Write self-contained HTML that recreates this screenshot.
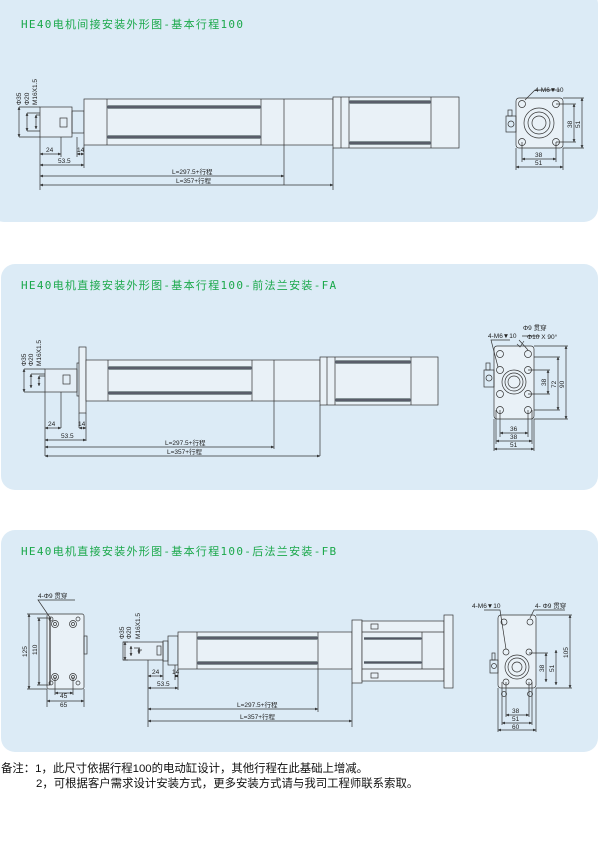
<!DOCTYPE html>
<html><head><meta charset="utf-8"><style>
body{margin:0;background:#fff;width:600px;height:842px;overflow:hidden;font-family:"Liberation Sans","Noto Sans CJK SC",sans-serif}
svg{position:absolute;left:0;top:0}
</style></head><body>
<svg width="600" height="842" viewBox="0 0 600 842" xmlns="http://www.w3.org/2000/svg">
<defs>
<marker id="a" viewBox="0 0 6 6" refX="6" refY="3" markerWidth="4" markerHeight="4" orient="auto-start-reverse"><path d="M0,0L6,3L0,6z" fill="#222"/></marker>
<linearGradient id="st" x1="0" y1="0" x2="0" y2="1"><stop offset="0" stop-color="#9aa"/><stop offset=".5" stop-color="#445"/><stop offset="1" stop-color="#9aa"/></linearGradient>
</defs>
<rect x="-10" y="-10" width="608" height="232" rx="14" fill="#dcebf6"/>
<rect x="1" y="264" width="597" height="226" rx="14" fill="#dcebf6"/>
<rect x="1" y="530" width="597" height="222" rx="14" fill="#dcebf6"/>
<g font-size="11" fill="#1aa84a" font-family="'DejaVu Sans Mono','Noto Sans CJK SC',monospace" letter-spacing="1.3">
<text x="21" y="28">HE40电机间接安装外形图-基本行程100</text>
<text x="21" y="289">HE40电机直接安装外形图-基本行程100-前法兰安装-FA</text>
<text x="21" y="555">HE40电机直接安装外形图-基本行程100-后法兰安装-FB</text>
</g>
<g stroke="#333" stroke-width="0.7" fill="none">
<!-- panel1 -->
<rect x="40" y="107" width="32" height="30" fill="#e4eef6"/><rect x="60" y="118" width="7" height="9"/><rect x="72" y="111" width="12" height="22"/>
<rect x="84" y="99" width="249" height="46" fill="#e9f1f7"/>
<line x1="107" y1="99" x2="107" y2="145"/><line x1="261" y1="99" x2="261" y2="145"/><line x1="284" y1="99" x2="284" y2="185"/>
<rect x="107" y="105" width="154" height="4" fill="url(#st)" stroke="none"/><rect x="107" y="135" width="154" height="4" fill="url(#st)" stroke="none"/>
<rect x="333" y="97" width="126" height="51" fill="#e9f1f7"/><line x1="341" y1="97" x2="341" y2="148"/><line x1="349" y1="97" x2="349" y2="148"/><line x1="431" y1="97" x2="431" y2="148"/>
<rect x="349" y="100" width="82" height="4" fill="url(#st)" stroke="none"/><rect x="349" y="141" width="82" height="4" fill="url(#st)" stroke="none"/>
<path d="M40 137V190M61 137V157M77 137V157M84 145V168M333 148V190"/>
<path d="M19 107H40M19 137H40M27 113H40M27 131H40M36 115H40"/>
<g marker-start="url(#a)" marker-end="url(#a)">
<line x1="19" y1="107" x2="19" y2="137"/><line x1="27" y1="113" x2="27" y2="131"/><line x1="36" y1="115" x2="36" y2="129"/>
<line x1="40" y1="154" x2="61" y2="154"/><line x1="84" y1="154" x2="77" y2="154"/><line x1="40" y1="165" x2="84" y2="165"/>
<line x1="40" y1="176" x2="284" y2="176"/><line x1="40" y1="185" x2="333" y2="185"/>
</g>
<rect x="516" y="98" width="47" height="50" rx="3" fill="#e9f1f7"/><rect x="506" y="116" width="10" height="16"/><rect x="508" y="110" width="4" height="6"/><circle cx="511" cy="124" r="3"/>
<circle cx="539" cy="123" r="15"/><circle cx="539" cy="123" r="11"/><circle cx="539" cy="123" r="7"/>
<g><circle cx="522" cy="104" r="3.5"/><circle cx="556" cy="104" r="3.5"/><circle cx="522" cy="142" r="3.5"/><circle cx="556" cy="142" r="3.5"/></g>
<path d="M556 104H576M563 98H584M556 142H576M563 148H584M522 142V162M556 142V162M516 148V170M563 148V170M525 100L535 90H560"/>
<g marker-start="url(#a)" marker-end="url(#a)"><line x1="574" y1="104" x2="574" y2="142"/><line x1="582" y1="98" x2="582" y2="148"/><line x1="522" y1="159" x2="556" y2="159"/><line x1="516" y1="167" x2="563" y2="167"/></g>
<!-- panel2 -->
<rect x="45" y="369" width="32" height="23" fill="#e4eef6"/><rect x="63" y="375" width="7" height="9"/><rect x="77" y="363" width="3" height="33"/>
<rect x="79" y="347" width="7" height="66" fill="#e9f1f7"/>
<rect x="86" y="360" width="234" height="41" fill="#e9f1f7"/>
<line x1="108" y1="360" x2="108" y2="401"/><line x1="252" y1="360" x2="252" y2="401"/><line x1="274" y1="360" x2="274" y2="449"/>
<rect x="108" y="366" width="144" height="4" fill="url(#st)" stroke="none"/><rect x="108" y="391" width="144" height="4" fill="url(#st)" stroke="none"/>
<rect x="320" y="357" width="118" height="48" fill="#e9f1f7"/><line x1="327" y1="357" x2="327" y2="405"/><line x1="335" y1="357" x2="335" y2="405"/><line x1="411" y1="357" x2="411" y2="405"/>
<rect x="335" y="360" width="76" height="4" fill="url(#st)" stroke="none"/><rect x="335" y="398" width="76" height="4" fill="url(#st)" stroke="none"/>
<path d="M45 392V456M61 392V428M79 413V428M86 413V441M320 405V456"/>
<path d="M24 369H45M24 392H45M31 374H45M39 376H45"/>
<g marker-start="url(#a)" marker-end="url(#a)">
<line x1="24" y1="369" x2="24" y2="392"/><line x1="31" y1="374" x2="31" y2="388"/><line x1="39" y1="376" x2="39" y2="386"/>
<line x1="45" y1="428" x2="61" y2="428"/><line x1="86" y1="428" x2="79" y2="428"/><line x1="45" y1="440" x2="86" y2="440"/>
<line x1="45" y1="447" x2="274" y2="447"/><line x1="45" y1="456" x2="320" y2="456"/>
</g>
<rect x="494" y="346" width="40" height="73" rx="3" fill="#e9f1f7"/><rect x="484" y="370" width="10" height="17"/><rect x="486" y="363" width="4" height="7"/><circle cx="489" cy="378" r="3"/>
<circle cx="514" cy="382" r="12"/><circle cx="514" cy="382" r="9"/><circle cx="514" cy="382" r="6"/>
<g><circle cx="500" cy="354" r="3.5"/><circle cx="528" cy="354" r="3.5"/><circle cx="500" cy="370" r="3.5"/><circle cx="528" cy="370" r="3.5"/><circle cx="500" cy="394" r="3.5"/><circle cx="528" cy="394" r="3.5"/><circle cx="500" cy="410" r="3.5"/><circle cx="528" cy="410" r="3.5"/></g>
<path d="M528 370H550M528 394H550M534 357H560M534 410H560M534 346H568M534 419H568M500 410V437M528 410V437M496 410V444M532 410V444M494 419V451M534 419V451M498 367L491 340H510M528 350L519 340M522 336H540"/>
<path d="M517 344L520 347L524 341" stroke-width="0.6"/>
<g marker-start="url(#a)" marker-end="url(#a)"><line x1="548" y1="370" x2="548" y2="394"/><line x1="558" y1="357" x2="558" y2="410"/><line x1="566" y1="346" x2="566" y2="419"/><line x1="500" y1="433" x2="528" y2="433"/><line x1="496" y1="441" x2="532" y2="441"/><line x1="494" y1="449" x2="534" y2="449"/></g>
<!-- panel3 -->
<rect x="47" y="614" width="37" height="75" rx="2" fill="#e9f1f7"/><line x1="50" y1="618" x2="50" y2="685" stroke-width="1.2"/><rect x="84" y="636" width="3" height="18"/>
<g><circle cx="55" cy="624" r="3.5"/><circle cx="55" cy="624" r="1.5"/><circle cx="73" cy="624" r="3.5"/><circle cx="73" cy="624" r="1.5"/><circle cx="55" cy="677" r="3.5"/><circle cx="55" cy="677" r="1.5"/><circle cx="73" cy="677" r="3.5"/><circle cx="73" cy="677" r="1.5"/><circle cx="51" cy="619" r="2"/><circle cx="78" cy="619" r="2"/><circle cx="51" cy="683" r="2"/><circle cx="78" cy="683" r="2"/></g>
<path d="M27 614H47M27 689H47M37 618H50M37 685H50M55 677V695M73 677V695M47 689V707M84 689V707M51 619L38 600H75"/>
<g marker-start="url(#a)" marker-end="url(#a)"><line x1="29" y1="614" x2="29" y2="689"/><line x1="39" y1="618" x2="39" y2="685"/><line x1="55" y1="693" x2="73" y2="693"/><line x1="47" y1="701" x2="84" y2="701"/></g>
<rect x="123" y="642" width="40" height="18" fill="#e4eef6"/><rect x="163" y="641" width="5" height="20"/><rect x="157" y="646" width="4" height="9"/>
<rect x="168" y="636" width="10" height="29"/>
<rect x="178" y="632" width="174" height="37" fill="#e9f1f7"/>
<line x1="197" y1="632" x2="197" y2="669"/><line x1="318" y1="632" x2="318" y2="669"/>
<rect x="197" y="636" width="121" height="4" fill="url(#st)" stroke="none"/><rect x="197" y="661" width="121" height="4" fill="url(#st)" stroke="none"/>
<rect x="352" y="620" width="10" height="63" fill="#e9f1f7"/>
<rect x="362" y="621" width="82" height="60" fill="#e9f1f7"/><line x1="362" y1="632" x2="444" y2="632"/><line x1="362" y1="669" x2="444" y2="669"/><line x1="422" y1="632" x2="422" y2="669"/>
<rect x="364" y="637" width="58" height="3" fill="url(#st)" stroke="none"/><rect x="364" y="661" width="58" height="3" fill="url(#st)" stroke="none"/>
<rect x="371" y="624" width="7" height="5"/><rect x="371" y="673" width="7" height="5"/>
<rect x="444" y="615" width="9" height="73" fill="#e9f1f7"/>
<path d="M148 660V727M163 660V680M175 665V680M178 669V690M318 669V712M352 683V727"/>
<path d="M123 642H128M123 660H128M134 648H140M142 650H140"/>
<g marker-start="url(#a)" marker-end="url(#a)">
<line x1="125" y1="642" x2="125" y2="660"/><line x1="131" y1="646" x2="131" y2="656"/><line x1="139" y1="648" x2="139" y2="654"/>
<line x1="148" y1="676" x2="163" y2="676"/><line x1="178" y1="676" x2="175" y2="676"/><line x1="148" y1="688" x2="178" y2="688"/>
<line x1="148" y1="709" x2="318" y2="709"/><line x1="148" y1="721" x2="352" y2="721"/>
</g>
<rect x="498" y="615" width="38" height="73" rx="3" fill="#e9f1f7"/><rect x="490" y="660" width="8" height="13"/><rect x="492" y="653" width="3" height="7"/><circle cx="494" cy="666" r="2.5"/>
<circle cx="517" cy="667" r="12"/><circle cx="517" cy="667" r="9"/><circle cx="517" cy="667" r="5"/>
<g><circle cx="504" cy="622" r="3"/><circle cx="530" cy="622" r="3"/><circle cx="506" cy="652" r="3"/><circle cx="529" cy="652" r="3"/><circle cx="506" cy="682" r="3"/><circle cx="529" cy="682" r="3"/><circle cx="504" cy="694" r="2.5"/><circle cx="530" cy="694" r="2.5"/></g>
<path d="M529 653H548M536 615H572M536 688H572M506 682V717M529 682V717M502 682V725M532 682V725M498 688V732M536 688V732M506 649L500 610H484M530 618L534 610H565"/>
<g marker-start="url(#a)" marker-end="url(#a)"><line x1="546" y1="653" x2="546" y2="682"/><line x1="556" y1="650" x2="556" y2="685"/><line x1="570" y1="615" x2="570" y2="688"/><line x1="506" y1="715" x2="529" y2="715"/><line x1="502" y1="723" x2="532" y2="723"/><line x1="498" y1="730" x2="536" y2="730"/></g>
</g>
<g font-size="6.5" fill="#222" font-family="'Liberation Sans','Noto Sans CJK SC',sans-serif">
<text x="46" y="152">24</text><text x="77" y="152">14</text><text x="58" y="163">53.5</text><text x="172" y="174">L=297.5+行程</text><text x="176" y="183">L=357+行程</text>
<text transform="translate(21,105) rotate(-90)">Φ35</text><text transform="translate(29,105) rotate(-90)">Φ20</text><text transform="translate(37,105) rotate(-90)">M16X1.5</text>
<text x="535" y="92">4-M6▼10</text><text x="535" y="157">38</text><text x="535" y="165">51</text>
<text transform="translate(572,128) rotate(-90)">38</text><text transform="translate(580,128) rotate(-90)">51</text>
<text x="48" y="426">24</text><text x="78" y="426">14</text><text x="61" y="438">53.5</text><text x="165" y="445">L=297.5+行程</text><text x="167" y="454">L=357+行程</text>
<text transform="translate(26,366) rotate(-90)">Φ35</text><text transform="translate(33,366) rotate(-90)">Φ20</text><text transform="translate(41,366) rotate(-90)">M16X1.5</text>
<text x="488" y="338">4-M6▼10</text><text x="523" y="330">Φ9 贯穿</text><text x="527" y="339">Φ10 X 90°</text>
<text x="510" y="431">36</text><text x="510" y="439">38</text><text x="510" y="447">51</text>
<text transform="translate(546,386) rotate(-90)">38</text><text transform="translate(556,388) rotate(-90)">72</text><text transform="translate(564,388) rotate(-90)">90</text>
<text x="38" y="598">4-Φ9 贯穿</text><text transform="translate(27,657) rotate(-90)">125</text><text transform="translate(37,655) rotate(-90)">110</text>
<text x="60" y="698">45</text><text x="60" y="707">65</text>
<text transform="translate(124,639) rotate(-90)">Φ35</text><text transform="translate(131,639) rotate(-90)">Φ20</text><text transform="translate(140,639) rotate(-90)">M16X1.5</text>
<text x="152" y="674">24</text><text x="172" y="674">14</text><text x="157" y="686">53.5</text><text x="237" y="707">L=297.5+行程</text><text x="240" y="719">L=357+行程</text>
<text x="472" y="608">4-M6▼10</text><text x="535" y="608">4- Φ9 贯穿</text>
<text x="512" y="713">38</text><text x="512" y="721">51</text><text x="512" y="729">60</text>
<text transform="translate(544,672) rotate(-90)">38</text><text transform="translate(554,672) rotate(-90)">51</text><text transform="translate(568,658) rotate(-90)">105</text>
</g>
<g font-size="11.4" fill="#111" font-family="'Liberation Sans','Noto Sans CJK SC',sans-serif">
<text x="1" y="772">备注：1，此尺寸依据行程100的电动缸设计，其他行程在此基础上增减。</text>
<text x="36" y="787">2，可根据客户需求设计安装方式，更多安装方式请与我司工程师联系索取。</text>
</g>
</svg>
</body></html>
